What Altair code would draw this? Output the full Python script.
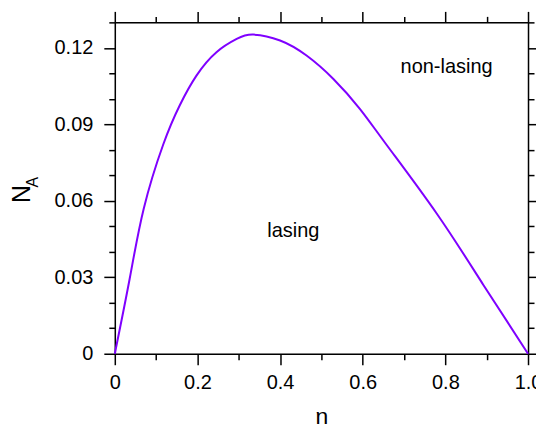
import altair as alt
import pandas as pd

# Curve
eta = [0, 0.036, 0.070, 0.117, 0.157, 0.198, 0.246, 0.295, 0.335, 0.400, 0.464,
       0.529, 0.593, 0.658, 0.779, 0.892, 1.0]
na = [0, 0.0294, 0.0569, 0.0820, 0.0974, 0.1092, 0.1183, 0.1235, 0.1252, 0.1229, 0.1170,
      0.1078, 0.0961, 0.0819, 0.0550, 0.0270, 0]

# Tick values
x_ticks = [0, 0.1, 0.2, 0.3, 0.4, 0.5, 0.6, 0.7, 0.8, 0.9, 1.0]
y_ticks = [0, 0.01, 0.02, 0.03, 0.04, 0.05, 0.06, 0.07, 0.08, 0.09, 0.10, 0.11, 0.12, 0.13]

# Annotations
ann_text = ["non-lasing", "lasing"]
ann_x = [0.803, 0.432]
ann_y = [0.1102, 0.0458]

df = pd.DataFrame({"eta": eta, "na": na})
ann = pd.DataFrame({"t": ann_text, "eta": ann_x, "na": ann_y})

FONT = "Liberation Sans"
xmaj = "abs(datum.value*5 - round(datum.value*5)) < 1e-6"
ymaj = "abs(datum.value/0.03 - round(datum.value/0.03)) < 1e-6"

xscale = alt.Scale(domain=[0, 1], nice=False, zero=False)
yscale = alt.Scale(domain=[0, 0.13], nice=False, zero=False)

common = dict(domainColor="black", domainWidth=1.5, tickColor="black", tickWidth=1.5,
              grid=False, labelFont=FONT, labelFontSize=20, labelColor="black")

x_bottom = alt.Axis(orient="bottom", values=x_ticks,
                    tickSize=alt.ExprRef(expr=f"{xmaj} ? 11 : 6"),
                    labelExpr=f"{xmaj} ? (datum.value == 0 ? '0' : format(datum.value, '.1f')) : ''",
                    labelPadding=8, title="η", titleFont=FONT, titleFontSize=23,
                    titleFontWeight="normal", titleColor="black", titlePadding=13,
                    labelFlush=False, labelOverlap=False, **common)
y_left = alt.Axis(orient="left", values=y_ticks,
                  tickSize=alt.ExprRef(expr=f"{ymaj} ? 11 : 6"),
                  labelExpr=f"{ymaj} ? (datum.value == 0 ? '0' : format(datum.value, '.2f')) : ''",
                  labelPadding=11, title=None, labelFlush=False, labelOverlap=False, **common)
x_top = alt.Axis(orient="top", values=x_ticks,
                 tickSize=alt.ExprRef(expr=f"{xmaj} ? 11 : 6"),
                 labels=False, title=None, **common)
y_right = alt.Axis(orient="right", values=y_ticks,
                   tickSize=alt.ExprRef(expr=f"{ymaj} ? 11 : 6"),
                   labels=False, title=None, **common)

line = alt.Chart(df).mark_line(color="#7f00ff", strokeWidth=2, interpolate="natural").encode(
    x=alt.X("eta:Q", scale=xscale, axis=x_bottom),
    y=alt.Y("na:Q", scale=yscale, axis=y_left),
)

frame = alt.Chart(df).mark_line(opacity=0).encode(
    x=alt.X("eta:Q", scale=xscale, axis=x_top),
    y=alt.Y("na:Q", scale=yscale, axis=y_right),
)

labels = alt.Chart(ann).mark_text(font=FONT, fontSize=20, color="black",
                                  align="center", baseline="alphabetic").encode(
    x=alt.X("eta:Q", scale=xscale, axis=None),
    y=alt.Y("na:Q", scale=yscale, axis=None),
    text="t:N",
)

ytitle_df = pd.DataFrame({"t": ["N"]})
ysub_df = pd.DataFrame({"t": ["A"]})
ytitle = alt.Chart(ytitle_df).mark_text(font=FONT, fontSize=25, color="black", angle=270,
                                        align="center", baseline="alphabetic").encode(
    x=alt.value(-85), y=alt.value(172), text="t:N")
ysub = alt.Chart(ysub_df).mark_text(font=FONT, fontSize=16, color="black", angle=270,
                                    align="center", baseline="alphabetic").encode(
    x=alt.value(-77), y=alt.value(160), text="t:N")

chart = alt.layer(line, frame, labels, ytitle, ysub).properties(
    width=414, height=332, autosize=alt.AutoSizeParams(type="none"),
    padding={"left": 107, "top": 14, "right": 8, "bottom": 70},
).configure_view(stroke=None).configure(background="white")

chart.save("out.html", embed_options={"renderer": "svg", "actions": False})
